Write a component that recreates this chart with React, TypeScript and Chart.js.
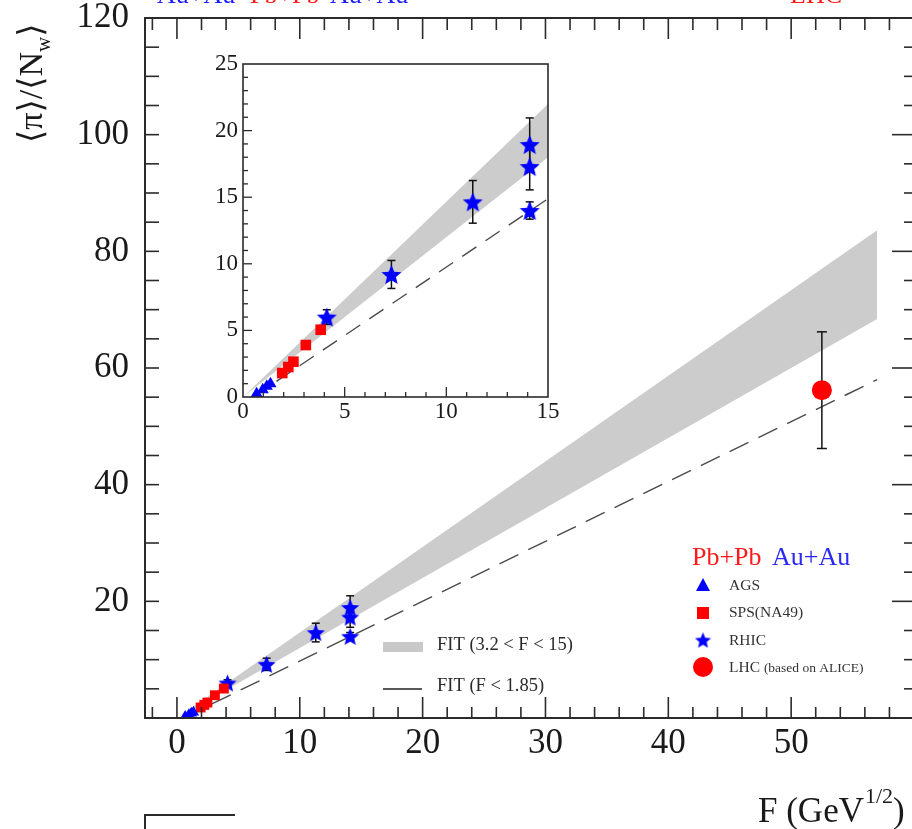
import React, { useEffect, useRef } from 'react';
import { Chart, registerables } from 'chart.js';
Chart.register(...registerables);

// ---- data ----
const agsF = [0.67, 0.97, 1.17, 1.35];
const agsY = [0.25, 0.55, 0.8, 1.0];
const spsF = [1.93, 2.23, 2.48, 3.09, 3.82];
const spsY = [1.8, 2.25, 2.65, 3.9, 5.05];
const rhicF = [4.12, 7.3, 11.3, 14.1, 14.1, 14.1];
const rhicY = [6.0, 9.2, 14.65, 18.95, 17.3, 14.0];
const rhicErr = [0.55, 1.05, 1.6, 2.0, 1.75, 0.65];
const lhcF = [52.5];
const lhcY = [56.2];
const lhcErr = [10.0];
const bandF = [0, 15, 57];
const bandUpper = [0, 22.0, 83.6];
const bandLower = [0, 18.0, 68.4];
const fitF = [0.5, 57];
const fitY = [0, 58.0];
const mainXLabels = [0, 10, 20, 30, 40, 50];
const mainYLabels = [20, 40, 60, 80, 100, 120];
const insetXLabels = [0, 5, 10, 15];
const insetYLabels = [0, 5, 10, 15, 20, 25];

const SERIF = "'Liberation Serif', 'DejaVu Serif', serif";
const BLUE = '#0000ff';
const RED = '#ff0000';

const pts = (xs: number[], ys: number[]) => xs.map((v, i) => ({ x: v, y: ys[i] }));

function makeStar(d: number, color: string) {
  const c = document.createElement('canvas');
  c.width = d; c.height = d;
  const g = c.getContext('2d')!;
  const R = d / 2, r = R * 0.45;
  g.beginPath();
  for (let i = 0; i < 10; i++) {
    const ang = -Math.PI / 2 + (i * Math.PI) / 5;
    const rad = i % 2 === 0 ? R : r;
    const px = R + rad * Math.cos(ang);
    const py = R + rad * Math.sin(ang) + R * 0.095;
    if (i === 0) g.moveTo(px, py); else g.lineTo(px, py);
  }
  g.closePath();
  g.fillStyle = color;
  g.fill();
  return c;
}

function line(ctx: CanvasRenderingContext2D, x1: number, y1: number, x2: number, y2: number) {
  ctx.beginPath(); ctx.moveTo(x1, y1); ctx.lineTo(x2, y2); ctx.stroke();
}

function drawErrBars(chart: any, F: number[], Y: number[], E: number[], cap: number) {
  const { ctx, scales: { x, y }, chartArea: a } = chart;
  ctx.save();
  ctx.beginPath(); ctx.rect(a.left, a.top, a.right - a.left, a.bottom - a.top); ctx.clip();
  ctx.strokeStyle = '#111'; ctx.lineWidth = 1.5;
  for (let i = 0; i < F.length; i++) {
    const px = x.getPixelForValue(F[i]);
    const t = y.getPixelForValue(Y[i] + E[i]);
    const b = y.getPixelForValue(Y[i] - E[i]);
    line(ctx, px, t, px, b);
    line(ctx, px - cap, t, px + cap, t);
    line(ctx, px - cap, b, px + cap, b);
  }
  ctx.restore();
}

function markerSets(star: HTMLCanvasElement, tri: number, sq: number, withLhc: boolean) {
  const ds: any[] = [
    { label: 'AGS', data: pts(agsF, agsY), pointStyle: 'triangle', pointRadius: tri, backgroundColor: BLUE, borderColor: BLUE, borderWidth: 0 },
    { label: 'SPS(NA49)', data: pts(spsF, spsY), pointStyle: 'rect', pointRadius: sq, backgroundColor: RED, borderColor: RED, borderWidth: 0 },
    { label: 'RHIC', data: pts(rhicF, rhicY), pointStyle: star, pointRadius: 10 },
    { label: 'LHC', data: withLhc ? pts(lhcF, lhcY) : [], pointStyle: 'circle', pointRadius: 10, backgroundColor: RED, borderColor: RED, borderWidth: 0 },
  ];
  return ds;
}

export default function App() {
  const mainRef = useRef<HTMLCanvasElement>(null);
  const insetRef = useRef<HTMLCanvasElement>(null);

  useEffect(() => {
    document.body.style.margin = '0';
    const starMain = makeStar(19, BLUE);
    const starInset = makeStar(21, BLUE);
    const starLegend = makeStar(17, BLUE);

    const mainPlugin = {
      id: 'mainDeco',
      afterDatasetDraw(chart: any, args: any) {
        if (args.index === 4) {
          drawErrBars(chart, rhicF, rhicY, rhicErr, 4);
          drawErrBars(chart, lhcF, lhcY, lhcErr, 5);
        }
      },
      afterDraw(chart: any) {
        const { ctx, chartArea: a, scales: { x, y } } = chart;
        ctx.save();
        ctx.strokeStyle = '#2b2b2b';
        ctx.lineWidth = 2;
        ctx.strokeRect(a.left, a.top, a.right - a.left, a.bottom - a.top);
        ctx.lineWidth = 1.6;
        for (let v = -2; v <= 60; v += 2) {
          const px = x.getPixelForValue(v);
          if (px < a.left + 2 || px > a.right - 2) continue;
          const major = v % 10 === 0;
          line(ctx, px, a.bottom, px, a.bottom - (major ? 21 : 11));
          line(ctx, px, a.top, px, a.top + (major ? 21 : 12));
        }
        for (let v = 5; v < 120; v += 5) {
          const py = y.getPixelForValue(v);
          line(ctx, a.left, py, a.left + 14, py);
          line(ctx, a.right, py, a.right - (v % 20 === 0 ? 22 : 10), py);
        }
        // fragment of next frame at bottom-left
        ctx.lineWidth = 2;
        ctx.beginPath(); ctx.moveTo(145, 829); ctx.lineTo(145, 815); ctx.lineTo(235, 815); ctx.stroke();

        // axis titles
        ctx.fillStyle = '#1a1a1a';
        ctx.textBaseline = 'alphabetic';
        ctx.textAlign = 'left';
        ctx.font = `35px ${SERIF}`;
        const t1 = 'F (GeV';
        ctx.fillText(t1, 758, 822);
        let w = ctx.measureText(t1).width;
        ctx.font = `22px ${SERIF}`;
        ctx.fillText('1/2', 758 + w + 1, 803);
        w += ctx.measureText('1/2').width + 1;
        ctx.font = `35px ${SERIF}`;
        ctx.fillText(')', 758 + w, 822);

        ctx.save();
        ctx.translate(42, 143);
        ctx.rotate(-Math.PI / 2);
        ctx.font = `34px ${SERIF}`;
        const yt = '\u27E8\u03C0\u27E9/\u27E8N';
        ctx.fillText(yt, 0, 0);
        let yw = ctx.measureText(yt).width;
        ctx.font = `21px ${SERIF}`;
        ctx.fillText('w', yw, 8);
        yw += ctx.measureText('w').width;
        ctx.font = `34px ${SERIF}`;
        ctx.fillText('\u27E9', yw, 0);
        ctx.restore();

        // cut-off header text at very top
        ctx.font = `26px ${SERIF}`;
        ctx.fillStyle = '#1a1aff'; ctx.fillText('Au+Au', 157, 3);
        ctx.fillStyle = '#ff1a1a'; ctx.fillText('Pb+Pb', 250, 3);
        ctx.fillStyle = '#1a1aff'; ctx.fillText('Au+Au', 330, 3);
        ctx.fillStyle = '#ff1a1a'; ctx.fillText('LHC', 790, 3);

        // legend (system)
        ctx.font = `26px ${SERIF}`;
        ctx.fillStyle = '#ff1a1a'; ctx.fillText('Pb+Pb', 692, 565);
        ctx.fillStyle = '#2a2af0'; ctx.fillText('Au+Au', 772, 565);

        // legend markers
        ctx.fillStyle = BLUE;
        ctx.beginPath(); ctx.moveTo(703, 578); ctx.lineTo(710, 591); ctx.lineTo(696, 591); ctx.closePath(); ctx.fill();
        ctx.fillStyle = RED; ctx.fillRect(697, 607, 12, 12);
        ctx.drawImage(starLegend, 703 - 8.5, 640 - 8.5);
        ctx.fillStyle = RED; ctx.beginPath(); ctx.arc(703, 667, 10, 0, Math.PI * 2); ctx.fill();

        ctx.fillStyle = '#333';
        ctx.font = `15.5px ${SERIF}`;
        ctx.fillText('AGS', 729, 590);
        ctx.fillText('SPS(NA49)', 729, 617);
        ctx.fillText('RHIC', 729, 645);
        ctx.fillText('LHC', 729, 672);
        const lw = ctx.measureText('LHC ').width;
        ctx.font = `13.5px ${SERIF}`;
        ctx.fillText('(based on ALICE)', 729 + lw, 672);

        // fit legend
        ctx.fillStyle = '#c9c9c9'; ctx.fillRect(383, 642, 40, 10);
        ctx.strokeStyle = '#222'; ctx.lineWidth = 1.5; line(ctx, 383, 689, 422, 689);
        ctx.fillStyle = '#2a2a2a';
        ctx.font = `18.5px ${SERIF}`;
        ctx.fillText('FIT (3.2 < F < 15)', 437, 650);
        ctx.fillText('FIT (F < 1.85)', 437, 691);
        ctx.restore();
      },
    };

    const insetPlugin = {
      id: 'insetDeco',
      beforeDraw(chart: any) {
        const { ctx, chartArea: a } = chart;
        ctx.save(); ctx.fillStyle = '#fff'; ctx.fillRect(a.left, a.top, a.right - a.left, a.bottom - a.top); ctx.restore();
      },
      afterDatasetDraw(chart: any, args: any) {
        if (args.index === 4) drawErrBars(chart, rhicF, rhicY, rhicErr, 4);
      },
      afterDraw(chart: any) {
        const { ctx, chartArea: a, scales: { x, y } } = chart;
        ctx.save();
        ctx.strokeStyle = '#2b2b2b';
        ctx.lineWidth = 1.6;
        ctx.strokeRect(a.left, a.top, a.right - a.left, a.bottom - a.top);
        ctx.lineWidth = 1.3;
        for (let v = 1; v < 15; v++) {
          const px = x.getPixelForValue(v);
          line(ctx, px, a.bottom, px, a.bottom - (v % 5 === 0 ? 10 : 5));
        }
        for (let v = 1; v < 25; v++) {
          const py = y.getPixelForValue(v);
          line(ctx, a.left, py, a.left + (v % 5 === 0 ? 9 : 5), py);
        }
        ctx.restore();
      },
    };

    const lineSets = (dash: number[]) => [
      { type: 'line', label: 'fitlow', data: pts(fitF, fitY), borderColor: '#4a4a4a', borderWidth: 1.4, borderDash: dash, pointRadius: 0, fill: false, tension: 0 },
      { type: 'line', label: 'bandU', data: pts(bandF, bandUpper), borderWidth: 0, borderColor: 'rgba(0,0,0,0)', backgroundColor: '#cccccc', pointRadius: 0, fill: '+1', tension: 0 },
      { type: 'line', label: 'bandL', data: pts(bandF, bandLower), borderWidth: 0, borderColor: 'rgba(0,0,0,0)', pointRadius: 0, fill: false, tension: 0 },
    ];

    const main = new Chart(mainRef.current!, {
      type: 'scatter',
      data: { datasets: [...markerSets(starMain, 6.5, 7, true), ...lineSets([21, 11])] as any },
      options: {
        responsive: false,
        animation: false,
        devicePixelRatio: 1,
        events: [],
        layout: { padding: { top: 18, right: 10, left: 0, bottom: 0 } },
        plugins: { legend: { display: false }, tooltip: { enabled: false } },
        scales: {
          x: {
            type: 'linear', min: -2.6, max: 60,
            grid: { display: false, drawTicks: false }, border: { display: false },
            ticks: {
              stepSize: 10, includeBounds: false, padding: 8, color: '#1a1a1a', maxRotation: 0,
              font: { family: SERIF, size: 35, lineHeight: 1 },
              callback: (v: any) => (mainXLabels.includes(Number(v)) ? String(v) : ''),
            },
            afterFit: (s: any) => { s.height = 111; s.paddingLeft = 0; s.paddingRight = 0; },
          },
          y: {
            type: 'linear', min: 0, max: 120,
            grid: { display: false, drawTicks: false }, border: { display: false },
            ticks: {
              stepSize: 20, padding: 16, color: '#1a1a1a',
              font: { family: SERIF, size: 35, lineHeight: 1 },
              callback: (v: any) => (mainYLabels.includes(Number(v)) ? String(v) : ''),
            },
            afterFit: (s: any) => { s.width = 145; s.paddingTop = 0; s.paddingBottom = 0; },
          },
        },
      } as any,
      plugins: [mainPlugin as any],
    });

    const inset = new Chart(insetRef.current!, {
      type: 'scatter',
      data: { datasets: [...markerSets(starInset, 7, 7.5, false), ...lineSets([17, 11])] as any },
      options: {
        responsive: false,
        animation: false,
        devicePixelRatio: 1,
        events: [],
        layout: { padding: { top: 24, right: 12, left: 0, bottom: 0 } },
        plugins: { legend: { display: false }, tooltip: { enabled: false } },
        scales: {
          x: {
            type: 'linear', min: 0, max: 15,
            grid: { display: false, drawTicks: false }, border: { display: false },
            ticks: {
              stepSize: 5, padding: 3, color: '#1a1a1a', maxRotation: 0,
              font: { family: SERIF, size: 23, lineHeight: 1 },
              callback: (v: any) => (insetXLabels.includes(Number(v)) ? String(v) : ''),
            },
            afterFit: (s: any) => { s.height = 33; s.paddingLeft = 0; s.paddingRight = 0; },
          },
          y: {
            type: 'linear', min: 0, max: 25,
            grid: { display: false, drawTicks: false }, border: { display: false },
            ticks: {
              stepSize: 5, padding: 5, color: '#1a1a1a',
              font: { family: SERIF, size: 23, lineHeight: 1 },
              callback: (v: any) => (insetYLabels.includes(Number(v)) ? String(v) : ''),
            },
            afterFit: (s: any) => { s.width = 63; s.paddingTop = 0; s.paddingBottom = 0; },
          },
        },
      } as any,
      plugins: [insetPlugin as any],
    });

    return () => { main.destroy(); inset.destroy(); };
  }, []);

  return (
    <div style={{ position: 'relative', width: 912, height: 829, overflow: 'hidden', background: '#fff' }}>
      <canvas ref={mainRef} width={925} height={829} style={{ position: 'absolute', left: 0, top: 0 }} />
      <canvas ref={insetRef} width={380} height={390} style={{ position: 'absolute', left: 180, top: 40 }} />
    </div>
  );
}
